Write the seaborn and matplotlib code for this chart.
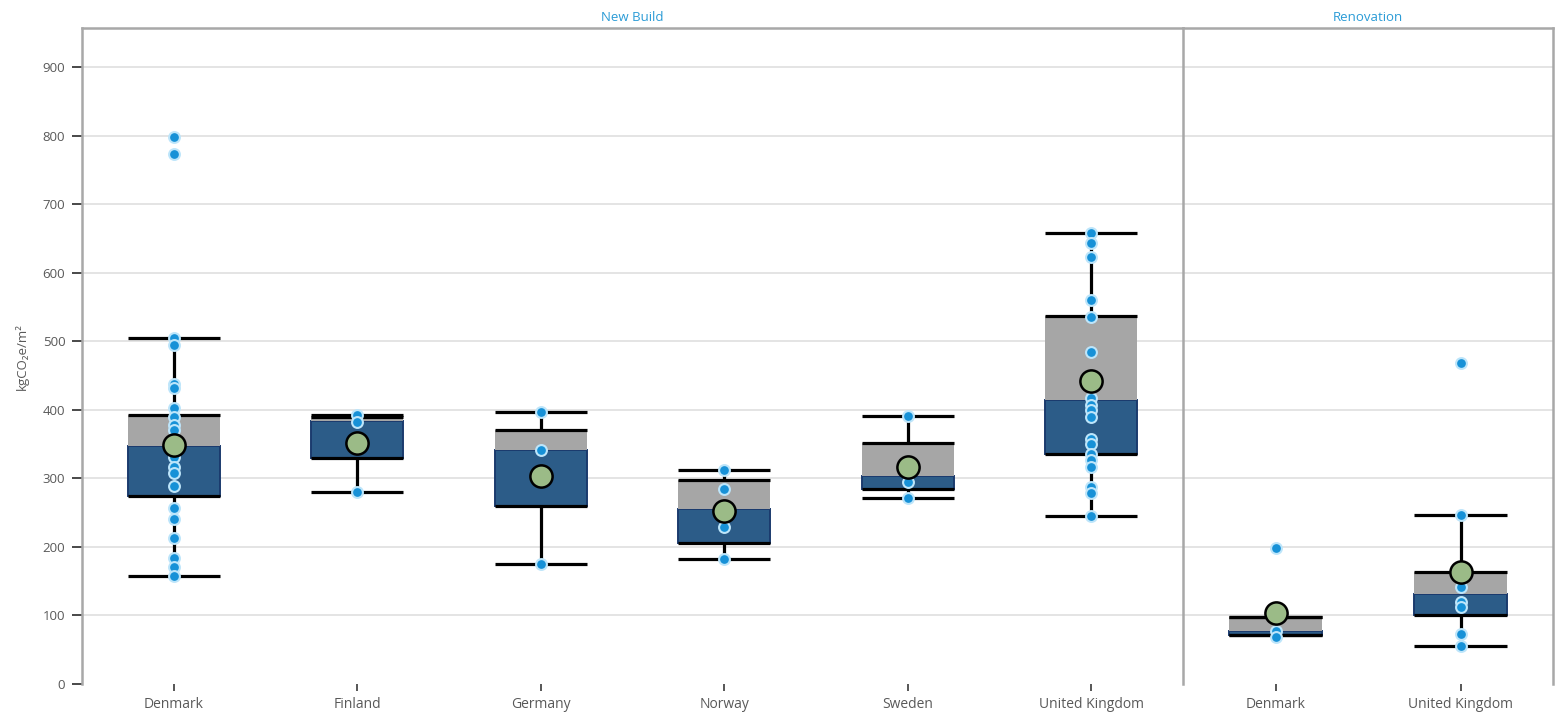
import numpy as np
import pandas as pd
import matplotlib
matplotlib.use("Agg")
import matplotlib.pyplot as plt
import seaborn as sns

# ---- categories -------------------------------------------------------------
nb_countries = ["Denmark", "Finland", "Germany", "Norway", "Sweden", "United Kingdom"]
ren_countries = ["Denmark", "United Kingdom"]

# ---- individual project values (kgCO2e/m2) ---------------------------------
nb_denmark = [798, 773, 505, 495, 438, 432, 402, 390, 378, 370, 352, 344, 331,
              317, 308, 289, 257, 240, 213, 184, 171, 157]
nb_finland = [392, 382, 280]
nb_germany = [397, 342, 175]
nb_norway = [312, 285, 229, 182]
nb_sweden = [391, 312, 295, 272]
nb_uk = [658, 643, 623, 560, 535, 484, 417, 407, 400, 390, 358, 350, 336,
         327, 317, 288, 278, 245]

ren_denmark = [198, 78, 68]
ren_uk = [469, 246, 141, 119, 113, 73, 56]

# ---- box statistics ----------------------------------------------------------
nb_low = [157, 280, 175, 182, 272, 245]
nb_q1 = [274, 330, 259, 205, 284, 336]
nb_median = [347, 383, 342, 255, 303, 415]
nb_q3 = [393, 389, 371, 298, 352, 537]
nb_high = [505, 392, 397, 312, 391, 658]
nb_mean = [348, 351, 304, 252, 317, 442]

ren_low = [71, 56]
ren_q1 = [72, 101]
ren_median = [77, 131]
ren_q3 = [98, 163]
ren_high = [98, 246]
ren_mean = [104, 164]

y_ticks = [0, 100, 200, 300, 400, 500, 600, 700, 800, 900]

# ---- style ------------------------------------------------------------------
BOX_BLUE = "#2C5C88"
BOX_EDGE = "#1B3B6E"
BOX_GREY = "#A6A6A6"
POINT = "#1791D7"
POINT_EDGE = "#BDE5FA"
MEAN = "#9BBB87"
FRAME = "#A8A8A8"
GRID = "#DCDCDC"
TEXT = "#595959"
TITLE = "#2A9BD6"

sns.set_theme(style="white")
plt.rcParams["font.family"] = ["Open Sans", "DejaVu Sans"]

fig = plt.figure(figsize=(15.58, 7.18), dpi=100)
W, H = 1558, 718
top, bottom = 28, 684
ax_nb = fig.add_axes([82 / W, 1 - bottom / H, (1183 - 82) / W, (bottom - top) / H])
ax_ren = fig.add_axes([1183 / W, 1 - bottom / H, (1553 - 1183) / W, (bottom - top) / H],
                      sharey=ax_nb)


def long_frame(countries, groups):
    rows = []
    for c, vals in zip(countries, groups):
        rows += [(c, v) for v in vals]
    return pd.DataFrame(rows, columns=["country", "value"])


def draw_panel(ax, countries, groups, low, q1, med, q3, high, mean, title):
    pts = long_frame(countries, groups)
    sns.stripplot(data=pts, x="country", y="value", order=countries, jitter=False,
                  color=POINT, edgecolor=POINT_EDGE, linewidth=1.5, size=7.8,
                  ax=ax, zorder=4)

    x = np.arange(len(countries))
    width = 0.5
    ax.bar(x, np.subtract(med, q1), bottom=q1, width=width, color=BOX_BLUE,
           edgecolor=BOX_EDGE, linewidth=1.4, zorder=2)
    ax.bar(x, np.subtract(q3, med), bottom=med, width=width, color=BOX_GREY,
           linewidth=0, zorder=2)
    ax.vlines(x, q3, high, color="black", linewidth=2.3, zorder=3)
    ax.vlines(x, low, q1, color="black", linewidth=2.3, zorder=3)
    for edge in (low, q1, q3, high):
        ax.hlines(edge, x - width / 2, x + width / 2, color="black",
                  linewidth=2.3, zorder=3)

    means = pd.DataFrame({"country": countries, "value": mean})
    sns.stripplot(data=means, x="country", y="value", order=countries, jitter=False,
                  color=MEAN, edgecolor="black", linewidth=1.8, size=16,
                  ax=ax, zorder=5)

    ax.set_xlim(-0.5, len(countries) - 0.5)
    ax.set_xlabel("")
    ax.set_title(title, color=TITLE, fontsize=9.5, pad=5)
    ax.tick_params(axis="x", colors="#3A3A3A", labelcolor=TEXT, labelsize=10,
                   length=5, width=1.2, pad=4, bottom=True)
    ax.set_axisbelow(True)
    ax.yaxis.grid(True, color=GRID, linewidth=1.1)
    ax.xaxis.grid(False)
    for side in ("top", "left", "right"):
        ax.spines[side].set_color(FRAME)
        ax.spines[side].set_linewidth(1.8)
    ax.spines["bottom"].set_visible(False)


draw_panel(ax_nb, nb_countries,
           [nb_denmark, nb_finland, nb_germany, nb_norway, nb_sweden, nb_uk],
           nb_low, nb_q1, nb_median, nb_q3, nb_high, nb_mean, "New Build")
draw_panel(ax_ren, ren_countries, [ren_denmark, ren_uk],
           ren_low, ren_q1, ren_median, ren_q3, ren_high, ren_mean, "Renovation")

ax_nb.set_ylim(0, 957)
ax_nb.set_yticks(y_ticks)
ax_nb.tick_params(axis="y", colors="#3A3A3A", labelcolor=TEXT, labelsize=9.5,
                  length=7, width=1.3, pad=5, left=True)
ax_nb.set_ylabel("kgCO₂e/m²", color=TEXT, fontsize=9.5, labelpad=10)
ax_nb.spines["right"].set_visible(False)

ax_ren.set_ylabel("")
ax_ren.tick_params(axis="y", left=False, labelleft=False)

fig.canvas.draw()
for a in (ax_nb, ax_ren):
    a.get_ygridlines()[0].set_visible(False)

fig.savefig("out.png", dpi=100)
